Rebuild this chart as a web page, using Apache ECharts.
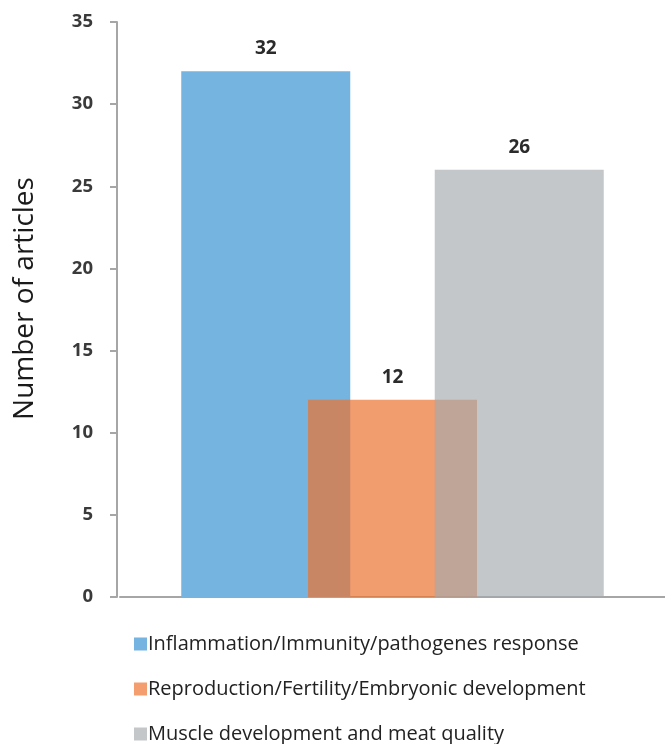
<!DOCTYPE html>
<html>
<head>
<meta charset="utf-8">
<script src="https://cdn.jsdelivr.net/npm/echarts@6/dist/echarts.min.js"></script>
<style>
  html, body { margin: 0; padding: 0; background: #fff; }
  #chart { width: 665px; height: 744px; }
</style>
</head>
<body>
<div id="chart"></div>
<script>
// Article counts per research theme
const categories = [''];
const themes = [
  'Inflammation/Immunity/pathogenes response',
  'Reproduction/Fertility/Embryonic development',
  'Muscle development and meat quality'
];
const inflammationValues = [32];
const reproductionValues = [12];
const muscleValues = [26];
const yTicks = [0, 5, 10, 15, 20, 25, 30, 35];

// Semi-transparent fills so the overlapping bars blend
const colors = ['rgba(117,179,224,1)', 'rgba(237,115,48,0.7)', 'rgba(163,169,174,0.65)'];
const legendColors = ['#75B3E0', '#F49D6E', '#C3C7CA'];
const seriesValues = [inflammationValues, reproductionValues, muscleValues];

const chart = echarts.init(document.getElementById('chart'));

const labelStyle = {
  show: true,
  position: 'top',
  distance: 13,
  fontFamily: 'Open Sans',
  fontWeight: 'bold',
  fontSize: 19,
  color: '#2b2b2b'
};

chart.setOption({
  animation: false,
  backgroundColor: '#ffffff',
  grid: { left: 120, right: 0, top: 22, height: 575 },
  legend: {
    orient: 'vertical',
    left: 134,
    bottom: 0,
    padding: 0,
    itemWidth: 13,
    itemHeight: 13,
    itemGap: 25,
    icon: 'rect',
    data: themes.map((name, i) => ({ name: name, itemStyle: { color: legendColors[i], opacity: 1 } })),
    textStyle: { fontFamily: 'Open Sans', fontSize: 20, color: '#222222', padding: [0, 0, 0, -4] }
  },
  xAxis: {
    type: 'category',
    data: categories,
    axisLine: { lineStyle: { color: '#A6A6A6', width: 2 } },
    axisTick: { show: false },
    axisLabel: { show: false }
  },
  yAxis: {
    type: 'value',
    offset: 3,
    min: yTicks[0],
    max: yTicks[yTicks.length - 1],
    interval: 5,
    name: 'Number of articles',
    nameLocation: 'middle',
    nameGap: 78,
    nameTextStyle: { fontFamily: 'Open Sans', fontSize: 28, color: '#1a1a1a', padding: [0, 0, 0, 22] },
    axisLine: { show: true, lineStyle: { color: '#A6A6A6', width: 2 } },
    axisTick: { show: true, length: 7, lineStyle: { color: '#A6A6A6', width: 2 } },
    axisLabel: {
      margin: 24,
      fontFamily: 'Open Sans',
      fontWeight: 'bold',
      fontSize: 18.5,
      color: '#3a3a3a'
    },
    splitLine: { show: false }
  },
  series: themes.map((name, i) => ({
    name: name,
    type: 'bar',
    data: seriesValues[i],
    barWidth: 169,
    barGap: '-25%',
    itemStyle: { color: colors[i] },
    label: labelStyle
  }))
});
</script>
</body>
</html>
